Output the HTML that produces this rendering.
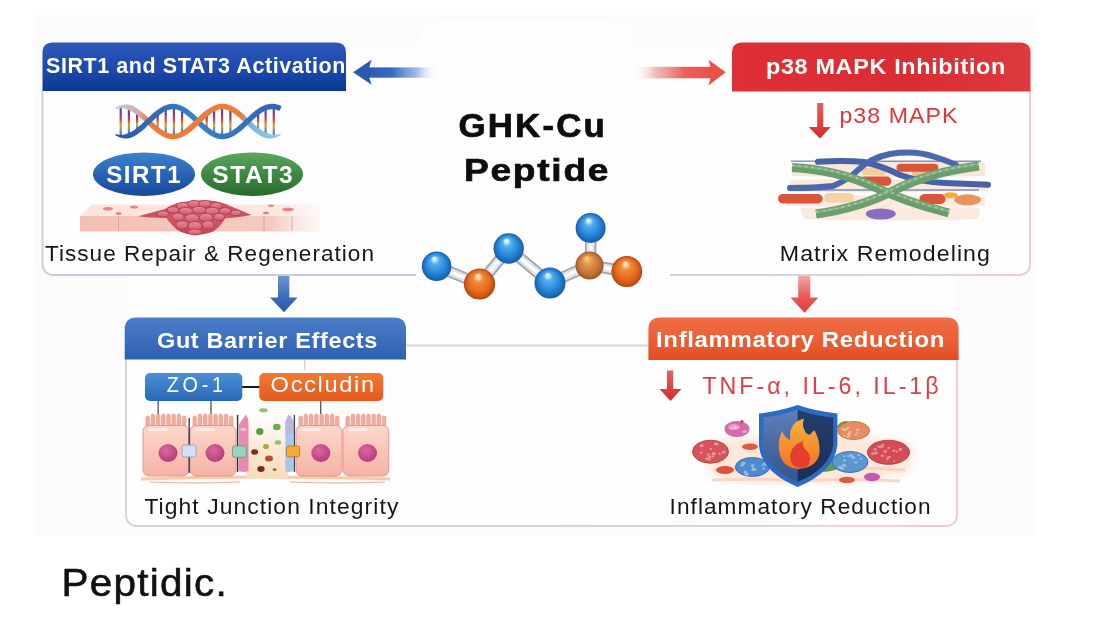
<!DOCTYPE html>
<html><head><meta charset="utf-8"><title>GHK-Cu Peptide</title>
<style>
html,body{margin:0;padding:0;background:#fff;width:1100px;height:621px;overflow:hidden}
svg{display:block;will-change:transform}
text{font-family:"Liberation Sans",sans-serif}
.b{font-weight:bold}
</style></head><body>
<svg width="1100" height="621" viewBox="0 0 1100 621">
<defs>
<linearGradient id="gTL" x1="0" y1="0" x2="0" y2="1"><stop offset="0" stop-color="#2d57ba"/><stop offset="0.6" stop-color="#1c48aa"/><stop offset="1" stop-color="#0a3794"/></linearGradient>
<linearGradient id="gTR" x1="0" y1="0" x2="1" y2="0"><stop offset="0" stop-color="#de2f36"/><stop offset="0.6" stop-color="#da2d33"/><stop offset="1" stop-color="#dc3a3e"/></linearGradient>
<linearGradient id="gBL" x1="0" y1="0" x2="0" y2="1"><stop offset="0" stop-color="#4b7dc9"/><stop offset="1" stop-color="#2f60b1"/></linearGradient>
<linearGradient id="gBR" x1="0" y1="0" x2="0" y2="1"><stop offset="0" stop-color="#ef6d47"/><stop offset="0.7" stop-color="#e85a30"/><stop offset="1" stop-color="#e04b1f"/></linearGradient>
<linearGradient id="gArrB" x1="0" y1="0" x2="1" y2="0"><stop offset="0" stop-color="#2a5ab0"/><stop offset="0.35" stop-color="#3a6cc0"/><stop offset="0.7" stop-color="#7a9fdc" stop-opacity="0.7"/><stop offset="1" stop-color="#ffffff" stop-opacity="0"/></linearGradient>
<linearGradient id="gArrR" x1="1" y1="0" x2="0" y2="0"><stop offset="0" stop-color="#e8504a"/><stop offset="0.35" stop-color="#e8625c"/><stop offset="0.7" stop-color="#ee9a96" stop-opacity="0.7"/><stop offset="1" stop-color="#ffffff" stop-opacity="0"/></linearGradient>
<linearGradient id="gDnB" x1="0" y1="0" x2="0" y2="1"><stop offset="0" stop-color="#6a94d4"/><stop offset="0.6" stop-color="#3a69ba"/><stop offset="1" stop-color="#2a58aa"/></linearGradient>
<linearGradient id="gDnR" x1="0" y1="0" x2="0" y2="1"><stop offset="0" stop-color="#f2a6a4"/><stop offset="0.55" stop-color="#ea5a58"/><stop offset="1" stop-color="#e03a3c"/></linearGradient>
<linearGradient id="gFrameT" x1="0" y1="0" x2="1" y2="0"><stop offset="0" stop-color="#cdd2de"/><stop offset="0.7" stop-color="#d6d8e0"/><stop offset="0.85" stop-color="#f0cfd0"/><stop offset="1" stop-color="#f3c6c8"/></linearGradient>
<linearGradient id="gFrameB" x1="0" y1="0" x2="1" y2="0"><stop offset="0" stop-color="#cdd2de"/><stop offset="0.75" stop-color="#d6d8e0"/><stop offset="0.9" stop-color="#f0d2d2"/><stop offset="1" stop-color="#f3c8c8"/></linearGradient>
<radialGradient id="ballB" cx="0.5" cy="0.5" r="0.5" fx="0.42" fy="0.22"><stop offset="0" stop-color="#ffffff"/><stop offset="0.1" stop-color="#d8effc"/><stop offset="0.28" stop-color="#52aeee"/><stop offset="0.7" stop-color="#2484d4"/><stop offset="0.92" stop-color="#1a66b6"/><stop offset="1" stop-color="#1a5aa2"/></radialGradient>
<radialGradient id="ballO" cx="0.5" cy="0.5" r="0.5" fx="0.45" fy="0.22"><stop offset="0" stop-color="#fff8ee"/><stop offset="0.1" stop-color="#fde0c0"/><stop offset="0.3" stop-color="#f28a3a"/><stop offset="0.7" stop-color="#e26a1c"/><stop offset="0.92" stop-color="#c84e12"/><stop offset="1" stop-color="#a8400c"/></radialGradient>
<radialGradient id="ballC" cx="0.5" cy="0.5" r="0.5" fx="0.4" fy="0.22"><stop offset="0" stop-color="#fde08a"/><stop offset="0.15" stop-color="#f0b460"/><stop offset="0.45" stop-color="#d88a48"/><stop offset="0.8" stop-color="#c06e36"/><stop offset="1" stop-color="#9a5226"/></radialGradient>
<filter id="blur2" x="-20%" y="-50%" width="140%" height="200%"><feGaussianBlur stdDeviation="2"/></filter>
<filter id="blur1"><feGaussianBlur stdDeviation="0.6"/></filter>
</defs>
<!-- background -->
<rect x="0" y="0" width="1100" height="621" fill="#ffffff"/>
<rect x="35" y="15" width="1000" height="521" fill="#fbfbfb"/>
<rect x="420" y="21" width="214" height="35" rx="17" fill="#ffffff" filter="url(#blur2)" opacity="0.7"/>
<!-- card bodies -->
<path d="M42.5 42.5 H1030 V275 H957 V526 H126 V275 H42.5 Z" fill="#fdfdfd"/>
<path d="M42.5 91 V263 Q42.5 274.5 54 274.5 H416 V91 Z" fill="#fdfdfd"/>
<path d="M670 91 V274.5 H1018.5 Q1030 274.5 1030 263 V91 Z" fill="#fdfdfd"/>
<path d="M126 345.5 V514 Q126 526 138 526 H945 Q957 526 957 514 V345.5 Z" fill="#fdfdfd"/>
<!-- frames -->
<path d="M42.5 91 V263 Q42.5 275 54.5 275 H416" fill="none" stroke="#c8cddb" stroke-width="1.8"/>
<path d="M670 275 H1018 Q1030 275 1030 263 V91" fill="none" stroke="url(#gFrameT)" stroke-width="1.8"/>
<path d="M126 359 V514 Q126 526 138 526 H945 Q957 526 957 514 V359" fill="none" stroke="url(#gFrameB)" stroke-width="1.8"/>
<path d="M406 345.5 H649" fill="none" stroke="#d2d6e0" stroke-width="1.8"/>
<!-- headers -->
<path d="M42.5 91 V53 Q42.5 42.5 53 42.5 H336 Q346 42.5 346 52.5 V91 Z" fill="url(#gTL)"/>
<path d="M732 91.5 V53 Q732 42.5 742.5 42.5 H1020 Q1030.5 42.5 1030.5 53 V91.5 Z" fill="url(#gTR)"/>
<path d="M124.7 359.6 V329.5 Q124.7 317.5 136.7 317.5 H394 Q406 317.5 406 329.5 V359.6 Z" fill="url(#gBL)"/>
<path d="M648.4 360 V329.4 Q648.4 317.4 660.4 317.4 H946.6 Q958.6 317.4 958.6 329.4 V360 Z" fill="url(#gBR)"/>
<text class="b" x="46" y="73.3" font-size="21.2" letter-spacing="0.6" fill="#fff" textLength="300" lengthAdjust="spacingAndGlyphs">SIRT1 and STAT3 Activation</text>
<text class="b" x="766" y="73.5" font-size="21.2" letter-spacing="0.6" fill="#fff" textLength="240" lengthAdjust="spacingAndGlyphs">p38 MAPK Inhibition</text>
<text class="b" x="157" y="347.5" font-size="21.2" letter-spacing="0.6" fill="#fff" textLength="221" lengthAdjust="spacingAndGlyphs">Gut Barrier Effects</text>
<text class="b" x="656" y="346.5" font-size="21.2" letter-spacing="0.6" fill="#fff" textLength="289" lengthAdjust="spacingAndGlyphs">Inflammatory Reduction</text>
<!-- side arrows -->
<rect x="368" y="67.4" width="70" height="10.3" fill="url(#gArrB)"/>
<path d="M353.1 72.3 L371.6 59.7 Q369 66 369 72.3 Q369 78.6 371.6 84.8 Z" fill="#2a5ab0"/>
<rect x="632" y="66.8" width="80" height="11.5" fill="url(#gArrR)"/>
<path d="M725.8 72.3 L708.4 59.7 Q711 66 711 72.3 Q711 78.6 708.4 85.4 Z" fill="#e8504a"/>
<!-- down arrows -->
<path d="M278 276 H289.3 V297.4 H297.5 L284 312.3 L270 297.4 H278 Z" fill="url(#gDnB)"/>
<path d="M798.2 276 H810.3 V297.4 H818.3 L804.5 312.8 L790.5 297.4 H798.2 Z" fill="url(#gDnR)"/>
<!-- GHK-Cu title -->
<text class="b" x="458.5" y="137.1" font-size="32.5" letter-spacing="2" fill="#0d0d0d" stroke="#0d0d0d" stroke-width="0.7" textLength="148.5" lengthAdjust="spacingAndGlyphs">GHK-Cu</text>
<text class="b" x="464" y="180.8" font-size="32.2" letter-spacing="1.5" fill="#0d0d0d" stroke="#0d0d0d" stroke-width="0.7" textLength="146.2" lengthAdjust="spacingAndGlyphs">Peptide</text>
<!-- molecule bonds -->
<g stroke-linecap="butt">
<g stroke="#9ea3ac" stroke-width="11.5">
<line x1="436.6" y1="266.2" x2="479.5" y2="284"/>
<line x1="479.5" y1="284" x2="508.7" y2="248.5"/>
<line x1="508.7" y1="248.5" x2="550" y2="283"/>
<line x1="550" y1="283" x2="590.3" y2="265"/>
<line x1="590.3" y1="265" x2="591" y2="227"/>
<line x1="590.3" y1="265" x2="627" y2="272"/>
</g>
<g stroke="#dfe2e6" stroke-width="8">
<line x1="436.6" y1="266.2" x2="479.5" y2="284"/>
<line x1="479.5" y1="284" x2="508.7" y2="248.5"/>
<line x1="508.7" y1="248.5" x2="550" y2="283"/>
<line x1="550" y1="283" x2="590.3" y2="265"/>
<line x1="590.3" y1="265" x2="591" y2="227"/>
<line x1="590.3" y1="265" x2="627" y2="272"/>
</g>
<g stroke="#fafbfc" stroke-width="3.5">
<line x1="436.6" y1="266.2" x2="479.5" y2="284"/>
<line x1="479.5" y1="284" x2="508.7" y2="248.5"/>
<line x1="508.7" y1="248.5" x2="550" y2="283"/>
<line x1="550" y1="283" x2="590.3" y2="265"/>
<line x1="590.3" y1="265" x2="591" y2="227"/>
<line x1="590.3" y1="265" x2="627" y2="272"/>
</g>
</g>
<!-- balls -->
<circle cx="436.6" cy="266.2" r="14.8" fill="url(#ballB)"/>
<circle cx="479.5" cy="284" r="15.6" fill="url(#ballO)"/>
<circle cx="508.7" cy="248.5" r="15.2" fill="url(#ballB)"/>
<circle cx="550" cy="283" r="15.5" fill="url(#ballB)"/>
<circle cx="590.6" cy="228" r="15" fill="url(#ballB)"/>
<circle cx="589.5" cy="265.5" r="14" fill="url(#ballC)"/>
<circle cx="626.8" cy="271.5" r="15.4" fill="url(#ballO)"/>
<!-- footer -->
<text x="61.5" y="596.4" font-size="38.5" letter-spacing="1.2" fill="#111" stroke="#111" stroke-width="0.6" textLength="166.5" lengthAdjust="spacingAndGlyphs">Peptidic.</text>
<!-- DNA -->
<linearGradient id="gRung" x1="0" y1="0" x2="0" y2="1"><stop offset="0" stop-color="#3a5aa8"/><stop offset="0.25" stop-color="#7a3a8a"/><stop offset="0.45" stop-color="#d84a3a"/><stop offset="0.65" stop-color="#e0a040"/><stop offset="0.85" stop-color="#3a90c8"/><stop offset="1" stop-color="#c83a4a"/></linearGradient>
<linearGradient id="gStrB" gradientUnits="userSpaceOnUse" x1="115" y1="0" x2="281" y2="0"><stop offset="0" stop-color="#c8c6e2"/><stop offset="0.14" stop-color="#d8aab8"/><stop offset="0.2" stop-color="#f07a3a"/><stop offset="0.76" stop-color="#f07a3a"/><stop offset="0.8" stop-color="#7ab4dc"/><stop offset="1" stop-color="#9ccbe6"/></linearGradient>
<linearGradient id="gStrA" gradientUnits="userSpaceOnUse" x1="115" y1="0" x2="281" y2="0"><stop offset="0" stop-color="#2a58a8"/><stop offset="0.5" stop-color="#3a80cc"/><stop offset="1" stop-color="#2e64b4"/></linearGradient>
<rect x="119.6" y="106.8" width="2.2" height="29.5" fill="url(#gRung)"/>
<rect x="127.8" y="107.3" width="2.2" height="28.3" fill="url(#gRung)"/>
<rect x="136.0" y="111.7" width="2.2" height="19.6" fill="url(#gRung)"/>
<rect x="156.5" y="113.2" width="2.2" height="16.6" fill="url(#gRung)"/>
<rect x="164.6" y="108.1" width="2.2" height="26.8" fill="url(#gRung)"/>
<rect x="172.8" y="106.5" width="2.2" height="30.0" fill="url(#gRung)"/>
<rect x="181.0" y="108.9" width="2.2" height="25.2" fill="url(#gRung)"/>
<rect x="205.6" y="113.5" width="2.2" height="16.0" fill="url(#gRung)"/>
<rect x="213.0" y="108.6" width="2.2" height="25.7" fill="url(#gRung)"/>
<rect x="221.0" y="106.5" width="2.2" height="30.0" fill="url(#gRung)"/>
<rect x="229.3" y="108.3" width="2.2" height="26.4" fill="url(#gRung)"/>
<rect x="257.0" y="112.0" width="2.2" height="18.9" fill="url(#gRung)"/>
<rect x="264.5" y="107.8" width="2.2" height="27.5" fill="url(#gRung)"/>
<rect x="272.7" y="106.6" width="2.2" height="29.8" fill="url(#gRung)"/>
<path d="M115.8,109.0 L116.3,108.9 L116.8,108.7 L117.3,108.6 L117.8,108.5 L118.3,108.4 L118.8,108.3 L119.3,108.2 L119.8,108.2 L120.3,108.2 L120.7,108.1 L121.2,108.1 L121.7,108.2 L122.1,108.2 L122.6,108.2 L123.1,108.3 L123.5,108.3 L123.9,108.4 L124.4,108.5 L124.8,108.6 L125.2,108.7 L125.7,108.9 L126.1,109.0 L126.5,109.2 L126.9,109.3 L127.4,109.5 L127.8,109.7 L128.2,109.9 L128.6,110.1 L129.0,110.3 L129.5,110.5 L129.9,110.6 L130.4,110.8 L130.8,111.1 L131.3,111.3 L131.7,111.5 L132.2,111.8 L132.6,112.0 L133.1,112.3 L133.6,112.6 L134.0,112.9 L134.5,113.2 L135.0,113.5 L135.4,113.9 L135.9,114.2 L136.4,114.6 L136.8,114.9 L137.3,115.3 L137.8,115.7 L138.3,116.1 L138.8,116.5 L139.2,116.9 L139.7,117.3 L140.2,117.7 L140.7,118.2 L141.2,118.6 L141.7,119.0 L142.2,119.5 L142.7,119.9 L143.2,120.4 L143.7,120.9 L144.1,121.3 L144.6,121.8 L145.1,122.3 L145.6,122.7 L146.1,123.2 L146.6,123.7 L147.1,124.2 L147.6,124.6 L148.1,125.1 L148.6,125.6 L149.2,126.1 L149.7,126.5 L150.2,127.0 L150.7,127.5 L151.2,128.0 L151.7,128.4 L152.2,128.9 L152.7,129.3 L153.2,129.8 L153.7,130.2 L154.3,130.7 L154.8,131.1 L155.3,131.5 L155.8,131.9 L156.3,132.3 L156.9,132.7 L157.4,133.1 L157.9,133.5 L158.5,133.9 L159.0,134.3 L159.5,134.6 L160.1,135.0 L160.6,135.3 L161.1,135.6 L161.7,135.9 L162.2,136.2 L162.8,136.5 L163.3,136.8 L163.9,137.1 L164.4,137.3 L165.0,137.5 L165.5,137.8 L166.1,138.0 L166.7,138.2 L167.2,138.3 L167.8,138.5 L168.4,138.6 L168.9,138.8 L169.5,138.9 L170.1,139.0 L170.7,139.1 L171.3,139.1 L171.8,139.2 L172.4,139.2 L173.0,139.2 L173.6,139.2 L174.2,139.2 L174.7,139.1 L175.3,139.1 L175.9,139.0 L176.5,138.9 L177.1,138.8 L177.6,138.6 L178.2,138.5 L178.8,138.3 L179.3,138.2 L179.9,138.0 L180.5,137.8 L181.0,137.5 L181.6,137.3 L182.1,137.1 L182.7,136.8 L183.2,136.5 L183.8,136.2 L184.3,135.9 L184.9,135.6 L185.4,135.3 L185.9,135.0 L186.5,134.6 L187.0,134.3 L187.5,133.9 L188.1,133.5 L188.6,133.1 L189.1,132.7 L189.7,132.3 L190.2,131.9 L190.7,131.5 L191.2,131.1 L191.7,130.7 L192.3,130.2 L192.8,129.8 L193.3,129.3 L193.8,128.9 L194.3,128.4 L194.8,128.0 L195.3,127.5 L195.8,127.0 L196.3,126.5 L196.8,126.1 L197.4,125.6 L197.9,125.1 L198.4,124.6 L198.9,124.2 L199.4,123.7 L199.9,123.2 L200.4,122.7 L200.9,122.3 L201.4,121.8 L201.9,121.3 L202.3,120.9 L202.8,120.4 L203.3,119.9 L203.8,119.5 L204.3,119.0 L204.8,118.6 L205.3,118.2 L205.8,117.7 L206.3,117.3 L206.8,116.9 L207.2,116.5 L207.7,116.1 L208.2,115.7 L208.7,115.3 L209.2,114.9 L209.6,114.6 L210.1,114.2 L210.6,113.9 L211.0,113.5 L211.5,113.2 L212.0,112.9 L212.4,112.6 L212.9,112.3 L213.4,112.0 L213.8,111.8 L214.3,111.5 L214.7,111.3 L215.2,111.1 L215.6,110.8 L216.1,110.6 L216.5,110.5 L217.0,110.3 L217.4,110.1 L217.8,110.0 L218.3,109.8 L218.7,109.7 L219.1,109.6 L219.6,109.5 L220.0,109.4 L220.4,109.4 L220.8,109.3 L221.2,109.3 L221.7,109.2 L222.1,109.2 L222.5,109.2 L222.9,109.2 L223.3,109.2 L223.8,109.3 L224.2,109.3 L224.6,109.4 L225.0,109.4 L225.4,109.5 L225.9,109.6 L226.3,109.7 L226.7,109.8 L227.2,110.0 L227.6,110.1 L228.0,110.3 L228.5,110.5 L228.9,110.6 L229.4,110.8 L229.8,111.1 L230.3,111.3 L230.7,111.5 L231.2,111.8 L231.6,112.0 L232.1,112.3 L232.6,112.6 L233.0,112.9 L233.5,113.2 L234.0,113.5 L234.4,113.9 L234.9,114.2 L235.4,114.6 L235.8,114.9 L236.3,115.3 L236.8,115.7 L237.3,116.1 L237.8,116.5 L238.2,116.9 L238.7,117.3 L239.2,117.7 L239.7,118.2 L240.2,118.6 L240.7,119.0 L241.2,119.5 L241.7,119.9 L242.2,120.4 L242.7,120.9 L243.1,121.3 L243.6,121.8 L244.1,122.3 L244.6,122.7 L245.1,123.2 L245.6,123.7 L246.1,124.2 L246.6,124.6 L247.1,125.1 L247.6,125.6 L248.2,126.1 L248.7,126.5 L249.2,127.0 L249.7,127.5 L250.2,128.0 L250.7,128.4 L251.2,128.9 L251.7,129.3 L252.2,129.8 L252.7,130.2 L253.3,130.7 L253.8,131.1 L254.3,131.5 L254.8,131.9 L255.3,132.3 L255.9,132.7 L256.4,133.1 L256.9,133.5 L257.5,133.9 L258.0,134.3 L258.5,134.6 L259.1,135.0 L259.6,135.3 L260.1,135.6 L260.7,135.9 L261.2,136.2 L261.8,136.5 L262.3,136.8 L262.9,137.1 L263.4,137.3 L264.0,137.5 L264.5,137.8 L265.1,138.0 L265.7,138.2 L266.3,138.3 L266.8,138.4 L267.4,138.4 L268.0,138.5 L268.6,138.5 L269.2,138.6 L269.7,138.6 L270.3,138.5 L270.9,138.5 L271.4,138.5 L272.0,138.4 L272.6,138.3 L273.1,138.2 L273.7,138.1 L274.2,138.0 L274.7,137.8 L275.3,137.7 L275.8,137.5 L276.3,137.3 L276.8,137.1 L277.3,136.9 L277.8,136.6 L278.3,136.4 L278.8,136.1 L279.3,135.9 L279.8,135.6 L280.3,135.3 L280.8,135.0 L280.2,133.8 L279.7,133.9 L279.2,134.1 L278.7,134.2 L278.2,134.3 L277.7,134.4 L277.2,134.5 L276.7,134.6 L276.2,134.7 L275.7,134.7 L275.2,134.8 L274.7,134.8 L274.3,134.8 L273.8,134.8 L273.3,134.8 L272.9,134.7 L272.4,134.7 L272.0,134.6 L271.6,134.5 L271.1,134.4 L270.7,134.3 L270.3,134.2 L269.8,134.1 L269.4,133.9 L269.0,133.8 L268.6,133.6 L268.2,133.4 L267.7,133.2 L267.3,133.0 L266.9,132.9 L266.5,132.7 L266.0,132.5 L265.6,132.4 L265.1,132.2 L264.7,131.9 L264.2,131.7 L263.8,131.5 L263.3,131.2 L262.9,131.0 L262.4,130.7 L261.9,130.4 L261.5,130.1 L261.0,129.8 L260.5,129.5 L260.1,129.1 L259.6,128.8 L259.1,128.4 L258.7,128.1 L258.2,127.7 L257.7,127.3 L257.2,126.9 L256.7,126.5 L256.3,126.1 L255.8,125.7 L255.3,125.3 L254.8,124.8 L254.3,124.4 L253.8,124.0 L253.3,123.5 L252.8,123.1 L252.3,122.6 L251.8,122.1 L251.4,121.7 L250.9,121.2 L250.4,120.7 L249.9,120.3 L249.4,119.8 L248.9,119.3 L248.4,118.8 L247.9,118.4 L247.4,117.9 L246.9,117.4 L246.3,116.9 L245.8,116.5 L245.3,116.0 L244.8,115.5 L244.3,115.0 L243.8,114.6 L243.3,114.1 L242.8,113.7 L242.3,113.2 L241.8,112.8 L241.2,112.3 L240.7,111.9 L240.2,111.5 L239.7,111.1 L239.2,110.7 L238.6,110.3 L238.1,109.9 L237.6,109.5 L237.0,109.1 L236.5,108.7 L236.0,108.4 L235.4,108.0 L234.9,107.7 L234.4,107.4 L233.8,107.1 L233.3,106.8 L232.7,106.5 L232.2,106.2 L231.6,105.9 L231.1,105.7 L230.5,105.5 L230.0,105.2 L229.4,105.0 L228.8,104.8 L228.3,104.7 L227.7,104.5 L227.1,104.4 L226.6,104.2 L226.0,104.1 L225.4,104.0 L224.8,103.9 L224.2,103.9 L223.7,103.8 L223.1,103.8 L222.5,103.8 L221.9,103.8 L221.3,103.8 L220.8,103.9 L220.2,103.9 L219.6,104.0 L219.0,104.1 L218.4,104.2 L217.9,104.4 L217.3,104.5 L216.7,104.7 L216.2,104.8 L215.6,105.0 L215.0,105.2 L214.5,105.5 L213.9,105.7 L213.4,105.9 L212.8,106.2 L212.3,106.5 L211.7,106.8 L211.2,107.1 L210.6,107.4 L210.1,107.7 L209.6,108.0 L209.0,108.4 L208.5,108.7 L208.0,109.1 L207.4,109.5 L206.9,109.9 L206.4,110.3 L205.8,110.7 L205.3,111.1 L204.8,111.5 L204.3,111.9 L203.8,112.3 L203.2,112.8 L202.7,113.2 L202.2,113.7 L201.7,114.1 L201.2,114.6 L200.7,115.0 L200.2,115.5 L199.7,116.0 L199.2,116.5 L198.7,116.9 L198.1,117.4 L197.6,117.9 L197.1,118.4 L196.6,118.8 L196.1,119.3 L195.6,119.8 L195.1,120.3 L194.6,120.7 L194.1,121.2 L193.6,121.7 L193.2,122.1 L192.7,122.6 L192.2,123.1 L191.7,123.5 L191.2,124.0 L190.7,124.4 L190.2,124.8 L189.7,125.3 L189.2,125.7 L188.7,126.1 L188.3,126.5 L187.8,126.9 L187.3,127.3 L186.8,127.7 L186.3,128.1 L185.9,128.4 L185.4,128.8 L184.9,129.1 L184.5,129.5 L184.0,129.8 L183.5,130.1 L183.1,130.4 L182.6,130.7 L182.1,131.0 L181.7,131.2 L181.2,131.5 L180.8,131.7 L180.3,131.9 L179.9,132.2 L179.4,132.4 L179.0,132.5 L178.5,132.7 L178.1,132.9 L177.7,133.0 L177.2,133.2 L176.8,133.3 L176.4,133.4 L175.9,133.5 L175.5,133.6 L175.1,133.6 L174.7,133.7 L174.3,133.7 L173.8,133.8 L173.4,133.8 L173.0,133.8 L172.6,133.8 L172.2,133.8 L171.7,133.7 L171.3,133.7 L170.9,133.6 L170.5,133.6 L170.1,133.5 L169.6,133.4 L169.2,133.3 L168.8,133.2 L168.3,133.0 L167.9,132.9 L167.5,132.7 L167.0,132.5 L166.6,132.4 L166.1,132.2 L165.7,131.9 L165.2,131.7 L164.8,131.5 L164.3,131.2 L163.9,131.0 L163.4,130.7 L162.9,130.4 L162.5,130.1 L162.0,129.8 L161.5,129.5 L161.1,129.1 L160.6,128.8 L160.1,128.4 L159.7,128.1 L159.2,127.7 L158.7,127.3 L158.2,126.9 L157.7,126.5 L157.3,126.1 L156.8,125.7 L156.3,125.3 L155.8,124.8 L155.3,124.4 L154.8,124.0 L154.3,123.5 L153.8,123.1 L153.3,122.6 L152.8,122.1 L152.4,121.7 L151.9,121.2 L151.4,120.7 L150.9,120.3 L150.4,119.8 L149.9,119.3 L149.4,118.8 L148.9,118.4 L148.4,117.9 L147.9,117.4 L147.3,116.9 L146.8,116.5 L146.3,116.0 L145.8,115.5 L145.3,115.0 L144.8,114.6 L144.3,114.1 L143.8,113.7 L143.3,113.2 L142.8,112.8 L142.2,112.3 L141.7,111.9 L141.2,111.5 L140.7,111.1 L140.2,110.7 L139.6,110.3 L139.1,109.9 L138.6,109.5 L138.0,109.1 L137.5,108.7 L137.0,108.4 L136.4,108.0 L135.9,107.7 L135.4,107.4 L134.8,107.1 L134.3,106.8 L133.7,106.5 L133.2,106.2 L132.6,105.9 L132.1,105.7 L131.5,105.5 L131.0,105.2 L130.4,105.0 L129.8,104.9 L129.2,104.8 L128.6,104.7 L128.1,104.6 L127.5,104.6 L126.9,104.5 L126.3,104.5 L125.8,104.5 L125.2,104.5 L124.6,104.6 L124.1,104.6 L123.5,104.7 L122.9,104.7 L122.4,104.8 L121.9,105.0 L121.3,105.1 L120.8,105.2 L120.3,105.4 L119.7,105.6 L119.2,105.8 L118.7,106.0 L118.2,106.2 L117.7,106.4 L117.2,106.7 L116.7,106.9 L116.2,107.2 L115.7,107.5 L115.2,107.8 Z" fill="url(#gStrB)"/>
<path d="M115.2,135.2 L115.7,135.5 L116.2,135.8 L116.7,136.1 L117.2,136.3 L117.7,136.6 L118.2,136.8 L118.7,137.0 L119.2,137.2 L119.7,137.4 L120.3,137.6 L120.8,137.8 L121.3,137.9 L121.9,138.0 L122.4,138.2 L122.9,138.3 L123.5,138.3 L124.1,138.4 L124.6,138.4 L125.2,138.5 L125.8,138.5 L126.3,138.5 L126.9,138.5 L127.5,138.4 L128.1,138.4 L128.6,138.3 L129.2,138.2 L129.8,138.1 L130.4,138.0 L131.0,137.8 L131.5,137.5 L132.1,137.3 L132.6,137.1 L133.2,136.8 L133.7,136.5 L134.3,136.2 L134.8,135.9 L135.4,135.6 L135.9,135.3 L136.4,135.0 L137.0,134.6 L137.5,134.3 L138.0,133.9 L138.6,133.5 L139.1,133.1 L139.6,132.7 L140.2,132.3 L140.7,131.9 L141.2,131.5 L141.7,131.1 L142.2,130.7 L142.8,130.2 L143.3,129.8 L143.8,129.3 L144.3,128.9 L144.8,128.4 L145.3,128.0 L145.8,127.5 L146.3,127.0 L146.8,126.5 L147.3,126.1 L147.9,125.6 L148.4,125.1 L148.9,124.6 L149.4,124.2 L149.9,123.7 L150.4,123.2 L150.9,122.7 L151.4,122.3 L151.9,121.8 L152.4,121.3 L152.8,120.9 L153.3,120.4 L153.8,119.9 L154.3,119.5 L154.8,119.0 L155.3,118.6 L155.8,118.2 L156.3,117.7 L156.8,117.3 L157.3,116.9 L157.7,116.5 L158.2,116.1 L158.7,115.7 L159.2,115.3 L159.7,114.9 L160.1,114.6 L160.6,114.2 L161.1,113.9 L161.5,113.5 L162.0,113.2 L162.5,112.9 L162.9,112.6 L163.4,112.3 L163.9,112.0 L164.3,111.8 L164.8,111.5 L165.2,111.3 L165.7,111.1 L166.1,110.8 L166.6,110.6 L167.0,110.5 L167.5,110.3 L167.9,110.1 L168.3,110.0 L168.8,109.8 L169.2,109.7 L169.6,109.6 L170.1,109.5 L170.5,109.4 L170.9,109.4 L171.3,109.3 L171.7,109.3 L172.2,109.2 L172.6,109.2 L173.0,109.2 L173.4,109.2 L173.8,109.2 L174.3,109.3 L174.7,109.3 L175.1,109.4 L175.5,109.4 L175.9,109.5 L176.4,109.6 L176.8,109.7 L177.2,109.8 L177.7,110.0 L178.1,110.1 L178.5,110.3 L179.0,110.5 L179.4,110.6 L179.9,110.8 L180.3,111.1 L180.8,111.3 L181.2,111.5 L181.7,111.8 L182.1,112.0 L182.6,112.3 L183.1,112.6 L183.5,112.9 L184.0,113.2 L184.5,113.5 L184.9,113.9 L185.4,114.2 L185.9,114.6 L186.3,114.9 L186.8,115.3 L187.3,115.7 L187.8,116.1 L188.3,116.5 L188.7,116.9 L189.2,117.3 L189.7,117.7 L190.2,118.2 L190.7,118.6 L191.2,119.0 L191.7,119.5 L192.2,119.9 L192.7,120.4 L193.2,120.9 L193.6,121.3 L194.1,121.8 L194.6,122.3 L195.1,122.7 L195.6,123.2 L196.1,123.7 L196.6,124.2 L197.1,124.6 L197.6,125.1 L198.1,125.6 L198.7,126.1 L199.2,126.5 L199.7,127.0 L200.2,127.5 L200.7,128.0 L201.2,128.4 L201.7,128.9 L202.2,129.3 L202.7,129.8 L203.2,130.2 L203.8,130.7 L204.3,131.1 L204.8,131.5 L205.3,131.9 L205.8,132.3 L206.4,132.7 L206.9,133.1 L207.4,133.5 L208.0,133.9 L208.5,134.3 L209.0,134.6 L209.6,135.0 L210.1,135.3 L210.6,135.6 L211.2,135.9 L211.7,136.2 L212.3,136.5 L212.8,136.8 L213.4,137.1 L213.9,137.3 L214.5,137.5 L215.0,137.8 L215.6,138.0 L216.2,138.2 L216.7,138.3 L217.3,138.5 L217.9,138.6 L218.4,138.8 L219.0,138.9 L219.6,139.0 L220.2,139.1 L220.8,139.1 L221.3,139.2 L221.9,139.2 L222.5,139.2 L223.1,139.2 L223.7,139.2 L224.2,139.1 L224.8,139.1 L225.4,139.0 L226.0,138.9 L226.6,138.8 L227.1,138.6 L227.7,138.5 L228.3,138.3 L228.8,138.2 L229.4,138.0 L230.0,137.8 L230.5,137.5 L231.1,137.3 L231.6,137.1 L232.2,136.8 L232.7,136.5 L233.3,136.2 L233.8,135.9 L234.4,135.6 L234.9,135.3 L235.4,135.0 L236.0,134.6 L236.5,134.3 L237.0,133.9 L237.6,133.5 L238.1,133.1 L238.6,132.7 L239.2,132.3 L239.7,131.9 L240.2,131.5 L240.7,131.1 L241.2,130.7 L241.8,130.2 L242.3,129.8 L242.8,129.3 L243.3,128.9 L243.8,128.4 L244.3,128.0 L244.8,127.5 L245.3,127.0 L245.8,126.5 L246.3,126.1 L246.9,125.6 L247.4,125.1 L247.9,124.6 L248.4,124.2 L248.9,123.7 L249.4,123.2 L249.9,122.7 L250.4,122.3 L250.9,121.8 L251.4,121.3 L251.8,120.9 L252.3,120.4 L252.8,119.9 L253.3,119.5 L253.8,119.0 L254.3,118.6 L254.8,118.2 L255.3,117.7 L255.8,117.3 L256.3,116.9 L256.7,116.5 L257.2,116.1 L257.7,115.7 L258.2,115.3 L258.7,114.9 L259.1,114.6 L259.6,114.2 L260.1,113.9 L260.5,113.5 L261.0,113.2 L261.5,112.9 L261.9,112.6 L262.4,112.3 L262.9,112.0 L263.3,111.8 L263.8,111.5 L264.2,111.3 L264.7,111.1 L265.1,110.8 L265.6,110.6 L266.0,110.5 L266.5,110.3 L266.9,110.1 L267.3,110.0 L267.8,109.8 L268.2,109.7 L268.6,109.6 L269.1,109.5 L269.5,109.4 L269.9,109.4 L270.3,109.3 L270.7,109.3 L271.2,109.2 L271.6,109.2 L272.0,109.2 L272.4,109.2 L272.8,109.2 L273.3,109.3 L273.7,109.3 L274.1,109.4 L274.5,109.4 L274.9,109.5 L275.4,109.6 L275.8,109.7 L276.2,109.8 L276.7,110.0 L277.1,110.1 L277.5,110.3 L278.0,110.5 L278.4,110.6 L278.9,110.8 L279.3,111.1 L281.7,106.2 L281.1,105.9 L280.6,105.7 L280.0,105.5 L279.5,105.2 L278.9,105.0 L278.3,104.8 L277.8,104.7 L277.2,104.5 L276.6,104.4 L276.1,104.2 L275.5,104.1 L274.9,104.0 L274.3,103.9 L273.7,103.9 L273.2,103.8 L272.6,103.8 L272.0,103.8 L271.4,103.8 L270.8,103.8 L270.3,103.9 L269.7,103.9 L269.1,104.0 L268.5,104.1 L267.9,104.2 L267.4,104.4 L266.8,104.5 L266.2,104.7 L265.7,104.8 L265.1,105.0 L264.5,105.2 L264.0,105.5 L263.4,105.7 L262.9,105.9 L262.3,106.2 L261.8,106.5 L261.2,106.8 L260.7,107.1 L260.1,107.4 L259.6,107.7 L259.1,108.0 L258.5,108.4 L258.0,108.7 L257.5,109.1 L256.9,109.5 L256.4,109.9 L255.9,110.3 L255.3,110.7 L254.8,111.1 L254.3,111.5 L253.8,111.9 L253.3,112.3 L252.7,112.8 L252.2,113.2 L251.7,113.7 L251.2,114.1 L250.7,114.6 L250.2,115.0 L249.7,115.5 L249.2,116.0 L248.7,116.5 L248.2,116.9 L247.6,117.4 L247.1,117.9 L246.6,118.4 L246.1,118.8 L245.6,119.3 L245.1,119.8 L244.6,120.3 L244.1,120.7 L243.6,121.2 L243.1,121.7 L242.7,122.1 L242.2,122.6 L241.7,123.1 L241.2,123.5 L240.7,124.0 L240.2,124.4 L239.7,124.8 L239.2,125.3 L238.7,125.7 L238.2,126.1 L237.8,126.5 L237.3,126.9 L236.8,127.3 L236.3,127.7 L235.8,128.1 L235.4,128.4 L234.9,128.8 L234.4,129.1 L234.0,129.5 L233.5,129.8 L233.0,130.1 L232.6,130.4 L232.1,130.7 L231.6,131.0 L231.2,131.2 L230.7,131.5 L230.3,131.7 L229.8,131.9 L229.4,132.2 L228.9,132.4 L228.5,132.5 L228.0,132.7 L227.6,132.9 L227.2,133.0 L226.7,133.2 L226.3,133.3 L225.9,133.4 L225.4,133.5 L225.0,133.6 L224.6,133.6 L224.2,133.7 L223.8,133.7 L223.3,133.8 L222.9,133.8 L222.5,133.8 L222.1,133.8 L221.7,133.8 L221.2,133.7 L220.8,133.7 L220.4,133.6 L220.0,133.6 L219.6,133.5 L219.1,133.4 L218.7,133.3 L218.3,133.2 L217.8,133.0 L217.4,132.9 L217.0,132.7 L216.5,132.5 L216.1,132.4 L215.6,132.2 L215.2,131.9 L214.7,131.7 L214.3,131.5 L213.8,131.2 L213.4,131.0 L212.9,130.7 L212.4,130.4 L212.0,130.1 L211.5,129.8 L211.0,129.5 L210.6,129.1 L210.1,128.8 L209.6,128.4 L209.2,128.1 L208.7,127.7 L208.2,127.3 L207.7,126.9 L207.2,126.5 L206.8,126.1 L206.3,125.7 L205.8,125.3 L205.3,124.8 L204.8,124.4 L204.3,124.0 L203.8,123.5 L203.3,123.1 L202.8,122.6 L202.3,122.1 L201.9,121.7 L201.4,121.2 L200.9,120.7 L200.4,120.3 L199.9,119.8 L199.4,119.3 L198.9,118.8 L198.4,118.4 L197.9,117.9 L197.4,117.4 L196.8,116.9 L196.3,116.5 L195.8,116.0 L195.3,115.5 L194.8,115.0 L194.3,114.6 L193.8,114.1 L193.3,113.7 L192.8,113.2 L192.3,112.8 L191.7,112.3 L191.2,111.9 L190.7,111.5 L190.2,111.1 L189.7,110.7 L189.1,110.3 L188.6,109.9 L188.1,109.5 L187.5,109.1 L187.0,108.7 L186.5,108.4 L185.9,108.0 L185.4,107.7 L184.9,107.4 L184.3,107.1 L183.8,106.8 L183.2,106.5 L182.7,106.2 L182.1,105.9 L181.6,105.7 L181.0,105.5 L180.5,105.2 L179.9,105.0 L179.3,104.8 L178.8,104.7 L178.2,104.5 L177.6,104.4 L177.1,104.2 L176.5,104.1 L175.9,104.0 L175.3,103.9 L174.7,103.9 L174.2,103.8 L173.6,103.8 L173.0,103.8 L172.4,103.8 L171.8,103.8 L171.3,103.9 L170.7,103.9 L170.1,104.0 L169.5,104.1 L168.9,104.2 L168.4,104.4 L167.8,104.5 L167.2,104.7 L166.7,104.8 L166.1,105.0 L165.5,105.2 L165.0,105.5 L164.4,105.7 L163.9,105.9 L163.3,106.2 L162.8,106.5 L162.2,106.8 L161.7,107.1 L161.1,107.4 L160.6,107.7 L160.1,108.0 L159.5,108.4 L159.0,108.7 L158.5,109.1 L157.9,109.5 L157.4,109.9 L156.9,110.3 L156.3,110.7 L155.8,111.1 L155.3,111.5 L154.8,111.9 L154.3,112.3 L153.7,112.8 L153.2,113.2 L152.7,113.7 L152.2,114.1 L151.7,114.6 L151.2,115.0 L150.7,115.5 L150.2,116.0 L149.7,116.5 L149.2,116.9 L148.6,117.4 L148.1,117.9 L147.6,118.4 L147.1,118.8 L146.6,119.3 L146.1,119.8 L145.6,120.3 L145.1,120.7 L144.6,121.2 L144.1,121.7 L143.7,122.1 L143.2,122.6 L142.7,123.1 L142.2,123.5 L141.7,124.0 L141.2,124.4 L140.7,124.8 L140.2,125.3 L139.7,125.7 L139.2,126.1 L138.8,126.5 L138.3,126.9 L137.8,127.3 L137.3,127.7 L136.8,128.1 L136.4,128.4 L135.9,128.8 L135.4,129.1 L135.0,129.5 L134.5,129.8 L134.0,130.1 L133.6,130.4 L133.1,130.7 L132.6,131.0 L132.2,131.2 L131.7,131.5 L131.3,131.7 L130.8,131.9 L130.4,132.2 L129.9,132.4 L129.5,132.5 L129.0,132.7 L128.6,132.9 L128.2,133.1 L127.8,133.3 L127.4,133.5 L126.9,133.7 L126.5,133.8 L126.1,134.0 L125.7,134.1 L125.2,134.3 L124.8,134.4 L124.4,134.5 L123.9,134.6 L123.5,134.7 L123.1,134.7 L122.6,134.8 L122.1,134.8 L121.7,134.8 L121.2,134.9 L120.7,134.9 L120.3,134.8 L119.8,134.8 L119.3,134.8 L118.8,134.7 L118.3,134.6 L117.8,134.5 L117.3,134.4 L116.8,134.3 L116.3,134.1 L115.8,134.0 Z" fill="url(#gStrA)"/>
<path d="M187.5,133.9 L188.1,133.5 L188.6,133.1 L189.1,132.7 L189.7,132.3 L190.2,131.9 L190.7,131.5 L191.2,131.1 L191.7,130.7 L192.3,130.2 L192.8,129.8 L193.3,129.3 L193.8,128.9 L194.3,128.4 L194.8,128.0 L195.3,127.5 L195.8,127.0 L196.3,126.5 L196.8,126.1 L197.4,125.6 L197.9,125.1 L198.4,124.6 L198.9,124.2 L199.4,123.7 L199.9,123.2 L200.4,122.7 L200.9,122.3 L201.4,121.8 L201.9,121.3 L202.3,120.9 L202.8,120.4 L203.3,119.9 L203.8,119.5 L204.3,119.0 L204.8,118.6 L205.3,118.2 L205.8,117.7 L206.3,117.3 L206.8,116.9 L207.2,116.5 L207.7,116.1 L208.2,115.7 L208.7,115.3 L209.2,114.9 L209.6,114.6 L210.1,114.2 L210.6,113.9 L207.4,109.5 L206.9,109.9 L206.4,110.3 L205.8,110.7 L205.3,111.1 L204.8,111.5 L204.3,111.9 L203.8,112.3 L203.2,112.8 L202.7,113.2 L202.2,113.7 L201.7,114.1 L201.2,114.6 L200.7,115.0 L200.2,115.5 L199.7,116.0 L199.2,116.5 L198.7,116.9 L198.1,117.4 L197.6,117.9 L197.1,118.4 L196.6,118.8 L196.1,119.3 L195.6,119.8 L195.1,120.3 L194.6,120.7 L194.1,121.2 L193.6,121.7 L193.2,122.1 L192.7,122.6 L192.2,123.1 L191.7,123.5 L191.2,124.0 L190.7,124.4 L190.2,124.8 L189.7,125.3 L189.2,125.7 L188.7,126.1 L188.3,126.5 L187.8,126.9 L187.3,127.3 L186.8,127.7 L186.3,128.1 L185.9,128.4 L185.4,128.8 L184.9,129.1 L184.5,129.5 Z" fill="#f07a3a"/>
<!-- SIRT1 / STAT3 -->
<linearGradient id="gSirt" x1="0" y1="0" x2="0" y2="1"><stop offset="0" stop-color="#3c84cf"/><stop offset="0.5" stop-color="#2763b5"/><stop offset="1" stop-color="#18489a"/></linearGradient>
<linearGradient id="gStat" x1="0" y1="0" x2="0" y2="1"><stop offset="0" stop-color="#5aa65c"/><stop offset="0.5" stop-color="#3d8a42"/><stop offset="1" stop-color="#286a2e"/></linearGradient>
<ellipse cx="144" cy="174.2" rx="51" ry="21.8" fill="url(#gSirt)"/>
<ellipse cx="252" cy="174.2" rx="51" ry="21.8" fill="url(#gStat)"/>
<text class="b" x="106.2" y="183.2" font-size="23.3" letter-spacing="1.5" fill="#fff" textLength="76" lengthAdjust="spacingAndGlyphs">SIRT1</text>
<text class="b" x="212.2" y="183.2" font-size="23.3" letter-spacing="1.5" fill="#fff" textLength="82" lengthAdjust="spacingAndGlyphs">STAT3</text>
<!-- tissue -->
<linearGradient id="gTisF" x1="0" y1="0" x2="1" y2="0"><stop offset="0" stop-color="#f3bfb4"/><stop offset="0.8" stop-color="#f6cac0"/><stop offset="1" stop-color="#fbe8e4" stop-opacity="0.3"/></linearGradient>
<linearGradient id="gTisT" x1="0" y1="0" x2="1" y2="0"><stop offset="0" stop-color="#fbe4dc"/><stop offset="0.85" stop-color="#fbe8e2"/><stop offset="1" stop-color="#fcf0ec" stop-opacity="0.3"/></linearGradient>
<path d="M80 216 L92 204.5 L322 204.5 L320 216 Z" fill="url(#gTisT)"/>
<path d="M80 216 H320 V231.6 H80 Z" fill="url(#gTisF)"/>
<path d="M118.5 216 V231 M264 216 V231 M292 216 V231" stroke="#d9a09a" stroke-width="0.8"/>
<ellipse cx="108" cy="208.7" rx="5" ry="1.8" fill="#e6868a"/>
<ellipse cx="134" cy="207" rx="4" ry="1.5" fill="#e6868a"/>
<ellipse cx="118.5" cy="213.5" rx="3" ry="1.3" fill="#e07a80"/>
<ellipse cx="271" cy="205.8" rx="3" ry="1.2" fill="#e6888c"/>
<ellipse cx="288" cy="209.4" rx="6" ry="1.8" fill="#e6868a"/>
<ellipse cx="266" cy="213" rx="3" ry="1.2" fill="#e07a80"/>
<radialGradient id="gWound" cx="0.5" cy="0.35" r="0.7"><stop offset="0" stop-color="#d8606f"/><stop offset="0.7" stop-color="#cc4e60"/><stop offset="1" stop-color="#b83e52"/></radialGradient>
<path d="M138.3 216.3 Q150 213 165 209 Q172 204 180 202.5 Q195 199.5 210 200.5 Q222 201.5 230 206 Q240 210 251.7 215 Q240 217 225 218.5 Q221 226 214 231 Q204 235.5 193 234.6 Q180 234 174 227 Q168 221 166.6 218 Q150 218 138.3 216.3 Z" fill="url(#gWound)"/>
<linearGradient id="gLump" x1="0" y1="0" x2="0" y2="1"><stop offset="0" stop-color="#ea8c9a"/><stop offset="1" stop-color="#d05a6c"/></linearGradient>
<g fill="url(#gLump)" stroke="#a93a4e" stroke-width="0.8">
<ellipse cx="183" cy="206" rx="6.5" ry="3.5"/><ellipse cx="194" cy="204" rx="6.5" ry="3.5"/><ellipse cx="205" cy="204" rx="6.0" ry="3.5"/><ellipse cx="216" cy="206" rx="6.0" ry="3.5"/>
<ellipse cx="173" cy="210" rx="6.0" ry="3.3"/><ellipse cx="186" cy="211" rx="7.0" ry="3.7"/><ellipse cx="199" cy="210" rx="7.0" ry="3.7"/><ellipse cx="212" cy="211" rx="7.0" ry="3.7"/><ellipse cx="225" cy="211" rx="6.0" ry="3.3"/><ellipse cx="236" cy="213" rx="5.5" ry="2.9"/>
<ellipse cx="163" cy="214" rx="6.0" ry="3.0"/><ellipse cx="178" cy="217" rx="6.0" ry="3.9"/><ellipse cx="192" cy="218" rx="7.0" ry="4.2"/><ellipse cx="206" cy="217.5" rx="7.0" ry="4.2"/><ellipse cx="219" cy="217" rx="5.5" ry="3.7"/>
<ellipse cx="182" cy="225" rx="6.0" ry="4.2"/><ellipse cx="195" cy="226" rx="7.0" ry="4.5"/><ellipse cx="208" cy="225" rx="6.0" ry="4.2"/>
<ellipse cx="195" cy="232" rx="7.0" ry="2.9"/>
</g>
<!-- label -->
<text x="45" y="261" font-size="21.8" letter-spacing="1" fill="#161616" textLength="330" lengthAdjust="spacingAndGlyphs">Tissue Repair &amp; Regeneration</text>
<!-- p38 MAPK -->
<linearGradient id="gSmR" x1="0" y1="0" x2="0" y2="1"><stop offset="0" stop-color="#e86060"/><stop offset="1" stop-color="#d42a2a"/></linearGradient>
<path d="M817.2 103 H823.3 V127 H830.8 L820 138.6 L808.7 127 H817.2 Z" fill="url(#gSmR)"/>
<text x="839.4" y="123.4" font-size="21.2" letter-spacing="1" fill="#d7393e" textLength="119.2" lengthAdjust="spacingAndGlyphs">p38 MAPK</text>
<!-- matrix -->
<g>
<path d="M792 164 Q880 160 985 162 L985 176 Q880 178 792 176 Z" fill="#fae0d0" opacity="0.75" filter="url(#blur1)"/>
<path d="M790 180 Q880 178 988 181 L988 191 Q880 193 790 192 Z" fill="#f9dcc8" opacity="0.6" filter="url(#blur1)"/>
<path d="M786 196 Q880 194 985 197 L985 206 Q880 208 786 206 Z" fill="#f9dcc8" opacity="0.55" filter="url(#blur1)"/>
<path d="M800 208 Q880 206 980 208 L978 219 Q880 222 804 219 Z" fill="#fae2d2" opacity="0.7" filter="url(#blur1)"/>
<rect x="824.4" y="193" width="29.2" height="9.5" rx="4" fill="#f8d2a6"/>
<rect x="862" y="168" width="24" height="7" rx="3" fill="#f6cda0"/>
<rect x="912" y="170" width="22" height="6" rx="3" fill="#f2c090"/>
<path d="M791 161.3 H981 M791 190 H979" stroke="#5a70b0" stroke-width="1.6" opacity="0.75"/>
<!-- blue fibers -->
<path d="M818 161.7 Q845 160 864 162 Q885 167 900 175 Q920 182 945 183 Q970 184 988 184.7" fill="none" stroke="#4862a8" stroke-width="6" stroke-linecap="round"/>
<rect x="896.5" y="163.8" width="41.8" height="8" rx="4" fill="#d9563a"/>
<rect x="860" y="176.4" width="31.3" height="9.4" rx="4.5" fill="#d9563a"/>
<path d="M790 188 Q815 188 833 186 Q848 180 858 170 Q870 158 890 154 Q915 150 935 157 Q948 161 956 165" fill="none" stroke="#4c68ac" stroke-width="6" stroke-linecap="round"/>
<!-- orange/red rods -->
<rect x="778" y="194" width="44.7" height="9.5" rx="4.7" fill="#d9563a"/>
<rect x="919.5" y="194" width="26.1" height="10" rx="5" fill="#d9563a"/>
<ellipse cx="967.6" cy="199.8" rx="13.5" ry="5.5" fill="#e8955a"/>
<ellipse cx="950.8" cy="195.2" rx="7" ry="3" fill="#f2b030"/>
<!-- green fibers -->
<path d="M792 167.5 Q835 170 870 185 Q905 202 948.8 213" fill="none" stroke="#6a9c6c" stroke-width="9" stroke-linecap="butt"/>
<path d="M792 165.5 Q835 168 870 183 Q905 200 948.8 211" fill="none" stroke="#8cbc8c" stroke-width="3" opacity="0.55"/>
<ellipse cx="880.8" cy="214" rx="15" ry="5.5" fill="#8a6cc0"/>
<path d="M816 214 Q860 208 895 190 Q930 172 979 166" fill="none" stroke="#6c9e6e" stroke-width="9" stroke-linecap="butt"/>
<path d="M792 165.5 Q835 168 870 183 Q905 200 948.8 211" fill="none" stroke="#b0d2b0" stroke-width="1.6" stroke-dasharray="2.5 4" opacity="0.9"/>
<path d="M816 212 Q860 206 895 188 Q930 170 979 164" fill="none" stroke="#8cbc8c" stroke-width="3" opacity="0.55"/>
<path d="M816 212 Q860 206 895 188 Q930 170 979 164" fill="none" stroke="#b0d2b0" stroke-width="1.6" stroke-dasharray="2.5 4" opacity="0.9"/>
</g>
<text x="779.8" y="261" font-size="21.8" letter-spacing="1" fill="#161616" textLength="211.2" lengthAdjust="spacingAndGlyphs">Matrix Remodeling</text>
<!-- ZO-1 / Occludin -->
<linearGradient id="gZo" x1="0" y1="0" x2="0" y2="1"><stop offset="0" stop-color="#4a90d8"/><stop offset="1" stop-color="#2a68b8"/></linearGradient>
<linearGradient id="gOc" x1="0" y1="0" x2="0" y2="1"><stop offset="0" stop-color="#f27a34"/><stop offset="1" stop-color="#e35a1c"/></linearGradient>
<path d="M304.8 360 V370" stroke="#c8ccd8" stroke-width="1.2"/>
<path d="M242 387 H260" stroke="#1a1a1a" stroke-width="2"/>
<path d="M158.2 401 V414 M211 401 V414 M320.7 401 V414" stroke="#555" stroke-width="1.3"/>
<rect x="145" y="373" width="97.3" height="28" rx="5" fill="url(#gZo)"/>
<rect x="259.3" y="373" width="124" height="28" rx="5" fill="url(#gOc)"/>
<text x="166.8" y="392.3" font-size="21.5" letter-spacing="4" fill="#fff" textLength="59.8" lengthAdjust="spacingAndGlyphs">ZO-1</text>
<text x="270.6" y="392.3" font-size="21.5" letter-spacing="1.5" fill="#fff" textLength="105.2" lengthAdjust="spacingAndGlyphs">Occludin</text>
<!-- cells -->
<linearGradient id="gCell" x1="0" y1="0" x2="0" y2="1"><stop offset="0" stop-color="#fcd8ca"/><stop offset="1" stop-color="#f5b2a6"/></linearGradient>
<radialGradient id="gNuc" cx="0.4" cy="0.35" r="0.7"><stop offset="0" stop-color="#d86aa0"/><stop offset="1" stop-color="#b43a78"/></radialGradient>
<path d="M141 479 Q265 475 390 479" stroke="#f6c9a8" stroke-width="3" fill="none"/>
<path d="M150 482 Q200 484 240 482 M290 482 Q340 484 385 482" stroke="#f0a890" stroke-width="1.2" fill="none"/>
<linearGradient id="gGap" x1="0" y1="0" x2="0" y2="1"><stop offset="0" stop-color="#fdf6ee" stop-opacity="0"/><stop offset="0.5" stop-color="#fbead6"/><stop offset="1" stop-color="#f9dcbc"/></linearGradient>
<rect x="246" y="412" width="42" height="66" fill="url(#gGap)"/>
<g fill="#f7ab9e" stroke="#e58c82" stroke-width="0.6">
<rect x="146.0" y="416.0" width="3.4" height="13" rx="1.7"/>
<rect x="151.2" y="414.0" width="3.4" height="15" rx="1.7"/>
<rect x="156.4" y="414.0" width="3.4" height="15" rx="1.7"/>
<rect x="161.6" y="414.0" width="3.4" height="15" rx="1.7"/>
<rect x="166.8" y="414.0" width="3.4" height="15" rx="1.7"/>
<rect x="172.0" y="414.0" width="3.4" height="15" rx="1.7"/>
<rect x="177.2" y="414.0" width="3.4" height="15" rx="1.7"/>
<rect x="182.4" y="416.0" width="3.4" height="13" rx="1.7"/>
<rect x="193.0" y="416.0" width="3.4" height="13" rx="1.7"/>
<rect x="198.2" y="414.0" width="3.4" height="15" rx="1.7"/>
<rect x="203.5" y="414.0" width="3.4" height="15" rx="1.7"/>
<rect x="208.7" y="414.0" width="3.4" height="15" rx="1.7"/>
<rect x="213.9" y="414.0" width="3.4" height="15" rx="1.7"/>
<rect x="219.1" y="414.0" width="3.4" height="15" rx="1.7"/>
<rect x="224.4" y="414.0" width="3.4" height="15" rx="1.7"/>
<rect x="229.6" y="416.0" width="3.4" height="13" rx="1.7"/>
<rect x="299.0" y="416.0" width="3.4" height="13" rx="1.7"/>
<rect x="304.2" y="414.0" width="3.4" height="15" rx="1.7"/>
<rect x="309.5" y="414.0" width="3.4" height="15" rx="1.7"/>
<rect x="314.7" y="414.0" width="3.4" height="15" rx="1.7"/>
<rect x="319.9" y="414.0" width="3.4" height="15" rx="1.7"/>
<rect x="325.1" y="414.0" width="3.4" height="15" rx="1.7"/>
<rect x="330.4" y="414.0" width="3.4" height="15" rx="1.7"/>
<rect x="335.6" y="416.0" width="3.4" height="13" rx="1.7"/>
<rect x="346.0" y="416.0" width="3.4" height="13" rx="1.7"/>
<rect x="351.2" y="414.0" width="3.4" height="15" rx="1.7"/>
<rect x="356.4" y="414.0" width="3.4" height="15" rx="1.7"/>
<rect x="361.6" y="414.0" width="3.4" height="15" rx="1.7"/>
<rect x="366.8" y="414.0" width="3.4" height="15" rx="1.7"/>
<rect x="372.0" y="414.0" width="3.4" height="15" rx="1.7"/>
<rect x="377.2" y="414.0" width="3.4" height="15" rx="1.7"/>
<rect x="382.4" y="416.0" width="3.4" height="13" rx="1.7"/>
</g>
<g fill="url(#gCell)" stroke="#e8968c" stroke-width="1">
<rect x="143" y="425.5" width="45.8" height="50.5" rx="6"/>
<rect x="190" y="425.5" width="46" height="50.5" rx="6"/>
<rect x="296" y="425.5" width="46" height="50.5" rx="6"/>
<rect x="343" y="425.5" width="45.8" height="50.5" rx="6"/>
</g>
<g fill="#ffffff" opacity="0.5">
<rect x="148" y="428" width="20" height="3" rx="1.5"/><rect x="195" y="428" width="20" height="3" rx="1.5"/><rect x="301" y="428" width="20" height="3" rx="1.5"/><rect x="348" y="428" width="20" height="3" rx="1.5"/>
</g>
<g fill="url(#gNuc)">
<ellipse cx="168" cy="453" rx="9.5" ry="9"/>
<ellipse cx="215" cy="453" rx="9.5" ry="9"/>
<ellipse cx="320.8" cy="453" rx="9.5" ry="9"/>
<ellipse cx="367.5" cy="453" rx="9.5" ry="9"/>
</g>
<path d="M239 424 L246 414.4 Q248.5 418 248.5 424 V471 Q244 473 239 471 Z" fill="#e88ab0"/><path d="M240.5 428 H246 V431 H240.5 Z" fill="#fff" opacity="0.45"/>
<path d="M237.6 415 V472" stroke="#2a2a3a" stroke-width="1.4"/>
<path d="M285.3 422 L288.3 415 Q292 416 293.5 422 V471 Q289 473 285.3 471 Z" fill="#a6c6ee"/>
<path d="M285.3 422 L288.3 415 Q292 416 293.5 422 V434 H285.3 Z" fill="#bcb8dc"/>
<path d="M294.4 415 V472" stroke="#2a4a5a" stroke-width="1.3"/>
<path d="M189.2 418 V473" stroke="#2a3450" stroke-width="1.3"/>
<rect x="182" y="445" width="14" height="12" rx="2" fill="#d4e0f4" stroke="#8a9ab8" stroke-width="0.8"/>
<rect x="232.5" y="445.9" width="13.7" height="11.4" rx="2" fill="#94d6b8" stroke="#5a9a80" stroke-width="0.8"/>
<rect x="286.4" y="446" width="13.3" height="10.8" rx="2" fill="#f4aa38" stroke="#b07820" stroke-width="0.8"/>
<g>
<ellipse cx="263.5" cy="410.3" rx="4.3" ry="2" fill="#8cc468"/>
<ellipse cx="259.8" cy="431.5" rx="3.7" ry="3.5" fill="#5e9a3c"/>
<ellipse cx="276.8" cy="427" rx="3.8" ry="3.2" fill="#6cae4a"/>
<ellipse cx="278" cy="442.5" rx="3.2" ry="2.2" fill="#8cc468"/>
<ellipse cx="266" cy="446.6" rx="3" ry="2.5" fill="#b0a040"/>
<ellipse cx="254.6" cy="452" rx="3.5" ry="2.8" fill="#7a3020"/>
<ellipse cx="269" cy="458.5" rx="4" ry="3" fill="#b05030"/>
<ellipse cx="261" cy="469" rx="3.7" ry="3" fill="#7a2a20"/>
<ellipse cx="274.6" cy="469.5" rx="2" ry="1.5" fill="#a07030"/>
</g>
<text x="144.4" y="513.6" font-size="21.2" letter-spacing="1" fill="#161616" textLength="255" lengthAdjust="spacingAndGlyphs">Tight Junction Integrity</text>
<!-- TNF -->
<path d="M667 370.5 H673.2 V389 H681.4 L670.5 401 L659.5 389 H667 Z" fill="url(#gSmR)"/>
<text x="702.4" y="393.6" font-size="23.2" fill="#d9404a" textLength="236.2" lengthAdjust="spacing">TNF-α, IL-6, IL-1β</text>
<!-- inflammation blobs -->
<g>
<filter id="blur3" x="-20%" y="-50%" width="140%" height="200%"><feGaussianBlur stdDeviation="3"/></filter>
<path d="M708 442 Q760 432 800 438 Q860 432 912 444 Q916 460 905 474 Q850 486 800 482 Q740 486 714 477 Q702 460 708 442 Z" fill="#fbe2d0" opacity="0.75" filter="url(#blur3)"/>
<path d="M715 470 Q760 466 800 470 Q850 466 905 470" stroke="#f6cdb4" stroke-width="3" fill="none" opacity="0.8"/>
<path d="M712 480 Q760 478 800 481 Q850 478 900 481" stroke="#f6d0ba" stroke-width="3" fill="none" opacity="0.8"/>
<path d="M821 472 Q829 457 846 457 Q843 472 821 472 Z" fill="#5c9c52"/>
<path d="M836 428 Q840 420 848 421 Q845 428 836 428 Z" fill="#5c9c52"/>
<ellipse cx="737" cy="429" rx="12.5" ry="8" fill="#d46aa8"/>
<ellipse cx="734" cy="427" rx="6" ry="3" fill="#e89ac8"/>
<circle cx="742" cy="421.5" r="1.5" fill="#d03050"/>
<ellipse cx="710.5" cy="451.7" rx="18" ry="11.5" fill="#d8545c" stroke="#b83c48" stroke-width="0.9"/>
<ellipse cx="750" cy="446.8" rx="8" ry="3.2" fill="#e05a40"/>
<ellipse cx="725" cy="470" rx="9" ry="4" fill="#e0503c"/>
<ellipse cx="752.4" cy="467" rx="17" ry="9.5" fill="#4e8ace" stroke="#3a68a8" stroke-width="0.9"/>
<ellipse cx="853.6" cy="430.5" rx="16" ry="9" fill="#e68e60" stroke="#c06c40" stroke-width="0.9"/>
<ellipse cx="850" cy="462" rx="18" ry="10.5" fill="#5a96d0" stroke="#3a6aa8" stroke-width="0.9"/>
<ellipse cx="888.5" cy="452.3" rx="21" ry="12" fill="#d44c58" stroke="#b03a46" stroke-width="0.9"/>
<ellipse cx="847" cy="480" rx="8" ry="3.2" fill="#e05a40"/>
<ellipse cx="872" cy="477" rx="8" ry="4.2" fill="#c45ab0"/>
<g fill="#ffffff" opacity="0.4">
<ellipse cx="701.1" cy="452.7" rx="1.4" ry="1.1"/>
<ellipse cx="714.2" cy="454.6" rx="1.1" ry="0.9"/>
<ellipse cx="701.8" cy="445.6" rx="2.1" ry="1.6"/>
<ellipse cx="709.4" cy="459.4" rx="1.5" ry="1.2"/>
<ellipse cx="715.5" cy="443.7" rx="1.7" ry="1.3"/>
<ellipse cx="723.7" cy="452.2" rx="1.8" ry="1.4"/>
<ellipse cx="719.8" cy="453.8" rx="1.4" ry="1.0"/>
<ellipse cx="709.5" cy="456.7" rx="2.0" ry="1.5"/>
<ellipse cx="706.7" cy="458.6" rx="1.5" ry="1.2"/>
<ellipse cx="708.2" cy="454.6" rx="1.4" ry="1.0"/>
<ellipse cx="710.8" cy="449.1" rx="1.4" ry="1.1"/>
<ellipse cx="713.6" cy="453.6" rx="2.0" ry="1.5"/>
<ellipse cx="716.7" cy="444.0" rx="1.9" ry="1.5"/>
<ellipse cx="713.0" cy="456.6" rx="1.3" ry="1.0"/>
<ellipse cx="763.7" cy="468.4" rx="1.3" ry="1.0"/>
<ellipse cx="762.6" cy="465.3" rx="1.2" ry="0.9"/>
<ellipse cx="745.4" cy="472.1" rx="1.9" ry="1.5"/>
<ellipse cx="746.7" cy="474.2" rx="2.1" ry="1.6"/>
<ellipse cx="742.1" cy="465.3" rx="1.7" ry="1.3"/>
<ellipse cx="764.9" cy="463.5" rx="2.0" ry="1.6"/>
<ellipse cx="765.9" cy="464.7" rx="1.5" ry="1.2"/>
<ellipse cx="753.1" cy="469.7" rx="1.7" ry="1.3"/>
<ellipse cx="754.4" cy="469.3" rx="2.0" ry="1.6"/>
<ellipse cx="752.6" cy="465.7" rx="1.8" ry="1.4"/>
<ellipse cx="743.5" cy="463.2" rx="2.1" ry="1.6"/>
<ellipse cx="753.1" cy="467.9" rx="1.1" ry="0.8"/>
<ellipse cx="850.9" cy="431.9" rx="1.1" ry="0.8"/>
<ellipse cx="857.3" cy="432.9" rx="1.1" ry="0.8"/>
<ellipse cx="857.7" cy="429.9" rx="1.7" ry="1.3"/>
<ellipse cx="848.9" cy="434.2" rx="1.8" ry="1.4"/>
<ellipse cx="845.6" cy="429.7" rx="1.7" ry="1.3"/>
<ellipse cx="847.8" cy="428.1" rx="1.4" ry="1.1"/>
<ellipse cx="849.4" cy="432.2" rx="1.4" ry="1.0"/>
<ellipse cx="849.7" cy="435.4" rx="1.1" ry="0.8"/>
<ellipse cx="855.8" cy="434.7" rx="1.4" ry="1.0"/>
<ellipse cx="844.7" cy="436.0" rx="1.3" ry="1.0"/>
<ellipse cx="843.6" cy="429.3" rx="1.8" ry="1.4"/>
<ellipse cx="848.3" cy="436.5" rx="1.5" ry="1.2"/>
<ellipse cx="844.1" cy="465.2" rx="2.0" ry="1.5"/>
<ellipse cx="848.2" cy="456.2" rx="1.2" ry="0.9"/>
<ellipse cx="851.1" cy="455.5" rx="1.9" ry="1.4"/>
<ellipse cx="842.0" cy="468.5" rx="1.7" ry="1.3"/>
<ellipse cx="861.0" cy="458.8" rx="1.2" ry="0.9"/>
<ellipse cx="842.5" cy="468.2" rx="1.3" ry="1.0"/>
<ellipse cx="844.5" cy="460.3" rx="1.5" ry="1.1"/>
<ellipse cx="840.0" cy="467.2" rx="1.9" ry="1.5"/>
<ellipse cx="855.9" cy="462.4" rx="1.3" ry="1.0"/>
<ellipse cx="844.3" cy="456.3" rx="1.1" ry="0.9"/>
<ellipse cx="853.2" cy="457.5" rx="1.9" ry="1.4"/>
<ellipse cx="858.8" cy="455.1" rx="1.4" ry="1.0"/>
<ellipse cx="855.9" cy="462.5" rx="1.5" ry="1.1"/>
<ellipse cx="881.8" cy="446.4" rx="1.9" ry="1.5"/>
<ellipse cx="887.5" cy="459.1" rx="1.4" ry="1.1"/>
<ellipse cx="875.8" cy="453.1" rx="1.9" ry="1.5"/>
<ellipse cx="893.9" cy="461.0" rx="1.1" ry="0.8"/>
<ellipse cx="878.9" cy="446.7" rx="1.6" ry="1.2"/>
<ellipse cx="885.3" cy="451.6" rx="1.8" ry="1.4"/>
<ellipse cx="888.6" cy="447.9" rx="1.4" ry="1.1"/>
<ellipse cx="882.3" cy="455.8" rx="1.7" ry="1.3"/>
<ellipse cx="882.7" cy="444.9" rx="1.4" ry="1.1"/>
<ellipse cx="872.7" cy="453.6" rx="1.8" ry="1.4"/>
<ellipse cx="875.0" cy="449.3" rx="1.7" ry="1.3"/>
<ellipse cx="900.4" cy="449.4" rx="1.9" ry="1.4"/>
<ellipse cx="893.7" cy="450.7" rx="1.4" ry="1.1"/>
<ellipse cx="888.3" cy="457.2" rx="1.5" ry="1.1"/>
<ellipse cx="896.7" cy="451.4" rx="1.3" ry="1.0"/>
<ellipse cx="890.0" cy="457.0" rx="1.1" ry="0.9"/>
<ellipse cx="735.1" cy="427.8" rx="2.0" ry="1.5"/>
<ellipse cx="731.1" cy="428.4" rx="1.2" ry="0.9"/>
<ellipse cx="744.8" cy="431.6" rx="2.0" ry="1.5"/>
<ellipse cx="744.3" cy="431.7" rx="1.8" ry="1.4"/>
</g>
</g>
<!-- shield -->
<linearGradient id="gShL" x1="0" y1="0" x2="0" y2="1"><stop offset="0" stop-color="#5e7fbc"/><stop offset="1" stop-color="#34538e"/></linearGradient>
<linearGradient id="gShR" x1="0" y1="0" x2="0" y2="1"><stop offset="0" stop-color="#243e6e"/><stop offset="1" stop-color="#1a2f58"/></linearGradient>
<path d="M797.7 405 Q780 411 759 413.6 V445 Q761 472 797.7 487 Q834 472 837.4 445 V413.6 Q815 411 797.7 405 Z" fill="#2b6cc2"/>
<path d="M797.7 409.8 Q782 415.5 763.2 417.6 V445 Q765.5 468.5 797.7 482 Z" fill="url(#gShL)"/>
<path d="M797.7 409.8 Q813 415.5 833.2 417.6 V445 Q830 468.5 797.7 482 Z" fill="url(#gShR)"/>
<!-- flame -->
<linearGradient id="gFl" x1="0" y1="0" x2="0" y2="1"><stop offset="0" stop-color="#f9b13c"/><stop offset="1" stop-color="#f07424"/></linearGradient>
<path d="M799 469 Q781 468 779 450 Q778 440 782 431 Q785 438 790 440 Q789 428 796 422 Q801 419 804 418.8 Q801 426 806 433 Q810 437 812 432 L814.4 430.3 Q820 440 819.6 452 Q818 467 799 469 Z" fill="url(#gFl)"/>
<path d="M800 468 Q790 467 790 456 Q791 448 797 444 Q801 442 803 440.8 Q802 446 805 449 Q810 453 810 460 Q809 468 800 468 Z" fill="#e73c30"/>
<text x="669.6" y="513.7" font-size="21.2" letter-spacing="1" fill="#161616" textLength="262" lengthAdjust="spacingAndGlyphs">Inflammatory Reduction</text>
</svg>
</body></html>
